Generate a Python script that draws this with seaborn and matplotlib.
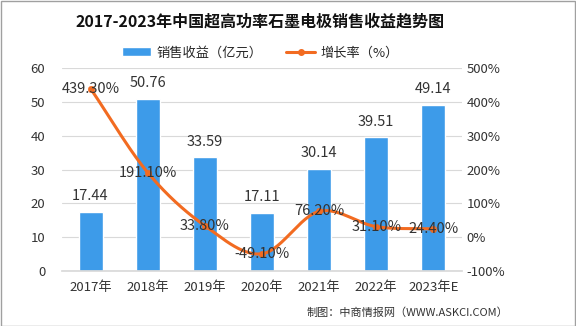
import numpy as np
import pandas as pd
import matplotlib
matplotlib.use("Agg")
import matplotlib.pyplot as plt
import seaborn as sns

categories = ["2017年", "2018年", "2019年", "2020年", "2021年", "2022年", "2023年E"]
revenue = [17.44, 50.76, 33.59, 17.11, 30.14, 39.51, 49.14]
growth = [439.30, 191.10, 33.80, -49.10, 76.20, 31.10, 24.40]
left_ticks = [0, 10, 20, 30, 40, 50, 60]
right_ticks = [-100, 0, 100, 200, 300, 400, 500]

sns.set_theme(style="white")
plt.rcParams["font.family"] = ["Noto Sans CJK SC", "DejaVu Sans"]

BAR = "#3d9be9"
LINE = "#f26b21"

df = pd.DataFrame({"cat": categories, "rev": revenue, "g": growth})

fig = plt.figure(figsize=(5.76, 3.26), dpi=100)
ax = fig.add_axes([0.1076, 0.1687, 0.6944, 0.6227])
sns.barplot(data=df, x="cat", y="rev", color=BAR, width=0.42, ax=ax, saturation=1)
ax.set_ylim(0, 60)
ax.set_yticks(left_ticks)
ax.set_xlim(-0.5, 6.5)
ax.set_xlabel("")
ax.set_ylabel("")
ax.grid(axis="y", color="#d9d9d9", linewidth=0.8)
ax.set_axisbelow(True)
for s in ["left", "right", "top"]:
    ax.spines[s].set_visible(False)
ax.spines["bottom"].set_color("#d9d9d9")
ax.tick_params(axis="both", length=0, labelsize=9.5, colors="#333333")
ax.tick_params(axis="y", pad=12)
ax.tick_params(axis="x", pad=7)
for i, v in enumerate(revenue):
    ax.text(i, v + 2.6, f"{v:.2f}", ha="center", va="bottom", fontsize=10.5, color="#333333")

ax2 = ax.twinx()
ax2.set_ylim(-100, 500)
ax2.set_yticks(right_ticks)
ax2.set_yticklabels([f"{t}%" for t in right_ticks])
for s in ["left", "right", "top", "bottom"]:
    ax2.spines[s].set_visible(False)
ax2.tick_params(axis="y", length=0, labelsize=9.5, colors="#333333")

# smooth curve (Catmull-Rom) through the data points
x = np.arange(len(growth), dtype=float)
y = np.array(growth, dtype=float)
px = np.concatenate([[2 * x[0] - x[1]], x, [2 * x[-1] - x[-2]]])
py = np.concatenate([[2 * y[0] - y[1]], y, [2 * y[-1] - y[-2]]])
xs, ys = [], []
t = np.linspace(0, 1, 30)
for k in range(1, len(px) - 2):
    p0, p1, p2, p3 = [np.array([px[j], py[j]]) for j in (k - 1, k, k + 1, k + 2)]
    tt = t[:, None]
    pts = 0.5 * ((2 * p1) + (-p0 + p2) * tt + (2 * p0 - 5 * p1 + 4 * p2 - p3) * tt**2
                 + (-p0 + 3 * p1 - 3 * p2 + p3) * tt**3)
    xs.extend(pts[:, 0]); ys.extend(pts[:, 1])
ax2.plot(xs, ys, color=LINE, linewidth=2.2, solid_capstyle="round")
sns.scatterplot(x=x, y=y, color=LINE, s=22, edgecolor=LINE, ax=ax2, zorder=5)
for i, v in enumerate(growth):
    ax2.text(i, v, f"{v:.2f}%", ha="center", va="center", fontsize=10.5, color="#333333", zorder=6)

fig.text(0.452, 0.935, "2017-2023年中国超高功率石墨电极销售收益趋势图", ha="center", va="center",
         fontsize=11.5, fontweight="bold", color="#111111")

from matplotlib.patches import Patch
from matplotlib.lines import Line2D
handles = [Patch(facecolor=BAR, label="销售收益（亿元）"),
           Line2D([0], [0], color=LINE, lw=2.2, marker="o", markersize=4, label="增长率（%）")]
fig.legend(handles=handles, loc="center", bbox_to_anchor=(0.452, 0.838), ncol=2, frameon=False,
           fontsize=9.5, handlelength=2.2, columnspacing=1.8, handletextpad=0.4)

fig.text(0.882, 0.04, "制图：中商情报网（WWW.ASKCI.COM）", ha="right", va="center", fontsize=8, color="#333333")

fig.patches.append(plt.Rectangle((0.001, 0.001), 0.997, 0.996, transform=fig.transFigure,
                                 fill=False, edgecolor="#a0a0a0", linewidth=1))
fig.savefig("out.png", dpi=100)
